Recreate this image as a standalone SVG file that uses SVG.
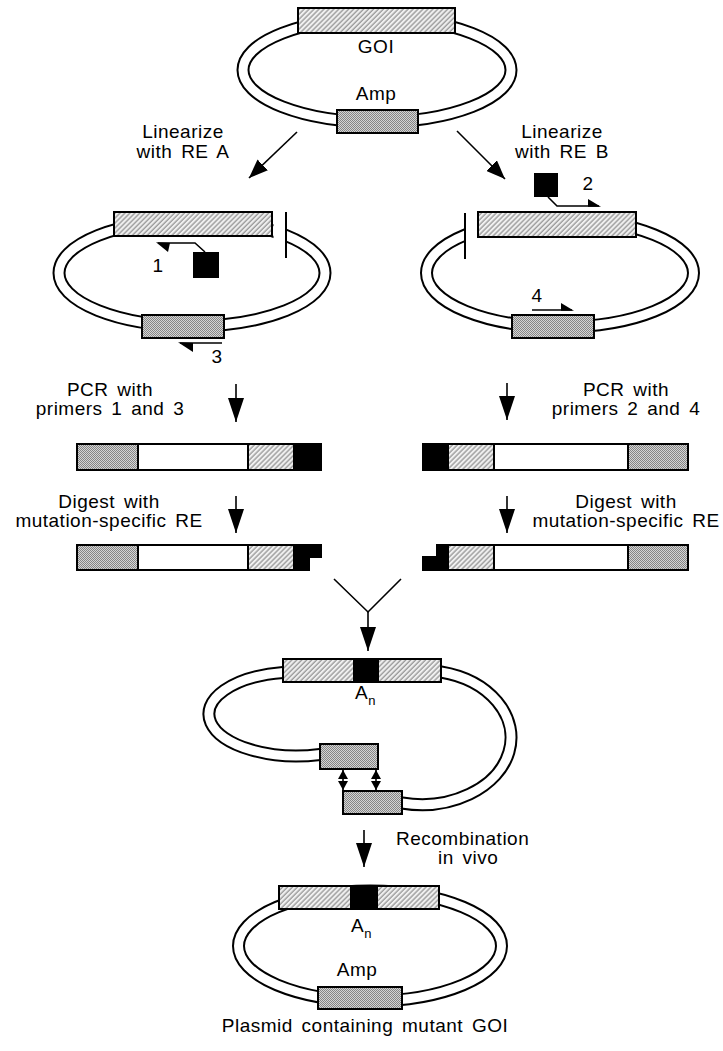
<svg xmlns="http://www.w3.org/2000/svg" width="723" height="1051" viewBox="0 0 723 1051">
  <defs>
    <!-- diagonal hatching used for the gene of interest -->
    <pattern id="hatch" width="3.5" height="3.5" patternUnits="userSpaceOnUse" patternTransform="rotate(45)">
      <rect width="3.5" height="3.5" fill="#f0f0f0"/>
      <line x1="1" y1="0" x2="1" y2="3.5" stroke="#7a7a7a" stroke-width="1"/>
    </pattern>
    <!-- fine stipple used for the Amp marker -->
    <pattern id="stipple" width="2" height="2" patternUnits="userSpaceOnUse">
      <rect width="2" height="2" fill="#d4d4d4"/>
      <rect width="1" height="1" fill="#858585"/>
      <rect x="1" y="1" width="1" height="1" fill="#858585"/>
    </pattern>
    <marker id="bigHead" viewBox="0 0 24 16" refX="24" refY="8" markerWidth="24" markerHeight="16" markerUnits="userSpaceOnUse" orient="auto">
      <path d="M0,0 L24,8 L0,16 Z" fill="#000"/>
    </marker>
    <marker id="diagHead" viewBox="0 0 19 15" refX="19" refY="7.5" markerWidth="19" markerHeight="15" markerUnits="userSpaceOnUse" orient="auto">
      <path d="M0,0 L19,7.5 L0,15 Z" fill="#000"/>
    </marker>
    <marker id="smallHead" viewBox="0 0 9 10" refX="9" refY="5" markerWidth="9" markerHeight="10" markerUnits="userSpaceOnUse" orient="auto-start-reverse">
      <path d="M0,0 L9,5 L0,10 Z" fill="#000"/>
    </marker>
    <style>
      .bandOut { fill: none; stroke: #000; stroke-width: 13; }
      .bandIn { fill: none; stroke: #fff; stroke-width: 9; }
      .goi { fill: url(#hatch); stroke: #000; stroke-width: 2; }
      .amp { fill: url(#stipple); stroke: #000; stroke-width: 2; }
      .blank { fill: #fff; stroke: #000; stroke-width: 2; }
      .solid { fill: #000; stroke: #000; stroke-width: 2; }
      .ln { fill: none; stroke: #000; stroke-width: 1.6; }
      .bar { fill: none; stroke: #000; stroke-width: 2; }
      .lbl { font-family: "Liberation Sans", Arial, sans-serif; font-size: 19px; letter-spacing: 0.5px; word-spacing: 3px; fill: #000; }
      .mid { text-anchor: middle; }
      .sub { font-size: 13px; letter-spacing: 0; }
      .gap { fill: #fff; }
    </style>
  </defs>

  <rect width="723" height="1051" fill="#fff"/>

  <!-- starting plasmid -->
  <g id="plasmid-start">
    <ellipse class="bandOut" cx="377" cy="70" rx="134" ry="52"/>
    <ellipse class="bandIn" cx="377" cy="70" rx="134" ry="52"/>
    <rect class="goi" x="298" y="8" width="157" height="25"/>
    <rect class="amp" x="337" y="110" width="81" height="23"/>
    <text class="lbl mid" x="376" y="53">GOI</text>
    <text class="lbl mid" x="376" y="100">Amp</text>
  </g>

  <!-- plasmid cut with RE A -->
  <g id="linear-a">
    <ellipse class="bandOut" cx="192" cy="273" rx="133" ry="53"/>
    <ellipse class="bandIn" cx="192" cy="273" rx="133" ry="53"/>
    <rect class="gap" x="273.5" y="218" width="11.5" height="30"/>
    <line class="bar" x1="286" y1="212" x2="286" y2="258"/>
    <rect class="goi" x="114" y="212" width="158" height="24"/>
    <rect class="amp" x="142" y="315" width="82" height="23"/>
    <polyline class="ln" points="158,243 195,243 205,252"/>
    <polygon points="156,242.3 170,243 168,252" fill="#000"/>
    <rect x="193" y="252" width="26" height="26" fill="#000"/>
    <polyline class="ln" points="180,343 222,343"/>
    <polygon points="178,342.3 193,343 193,352" fill="#000"/>
    <text class="lbl mid" x="158" y="272">1</text>
    <text class="lbl mid" x="217" y="363">3</text>
  </g>

  <!-- plasmid cut with RE B -->
  <g id="linear-b">
    <ellipse class="bandOut" cx="560" cy="273" rx="133.5" ry="54"/>
    <ellipse class="bandIn" cx="560" cy="273" rx="133.5" ry="54"/>
    <rect class="gap" x="466" y="218" width="11.5" height="30"/>
    <line class="bar" x1="465" y1="213" x2="465" y2="259"/>
    <rect class="goi" x="478" y="212" width="158" height="25"/>
    <rect class="amp" x="512" y="315" width="82" height="23"/>
    <rect x="534" y="173" width="24" height="24" fill="#000"/>
    <polyline class="ln" points="548,197 557,206 599,206"/>
    <polygon points="601,206.7 588,199 588,206.7" fill="#000"/>
    <polyline class="ln" points="532,310 572,310"/>
    <polygon points="574,310.7 561,303 561,310.7" fill="#000"/>
    <text class="lbl mid" x="588" y="190">2</text>
    <text class="lbl mid" x="537" y="302">4</text>
  </g>

  <!-- PCR product from primers 1 and 3 -->
  <g id="pcr-a">
    <rect class="amp" x="77" y="444" width="61" height="26"/>
    <rect class="blank" x="138" y="444" width="110" height="26"/>
    <rect class="goi" x="248" y="444" width="46" height="26"/>
    <rect class="solid" x="294" y="444" width="27" height="26"/>
  </g>

  <!-- PCR product from primers 2 and 4 -->
  <g id="pcr-b">
    <rect class="solid" x="423" y="444" width="25" height="26"/>
    <rect class="goi" x="448" y="444" width="46" height="26"/>
    <rect class="blank" x="494" y="444" width="134" height="26"/>
    <rect class="amp" x="628" y="444" width="60" height="26"/>
  </g>

  <!-- digested product A with sticky end -->
  <g id="digest-a">
    <rect class="amp" x="77" y="545" width="61" height="25"/>
    <rect class="blank" x="138" y="545" width="110" height="25"/>
    <rect class="goi" x="248" y="545" width="46" height="25"/>
    <polygon class="solid" points="294,545 321,545 321,557 309,557 309,570 294,570"/>
  </g>

  <!-- digested product B with sticky end -->
  <g id="digest-b">
    <polygon class="solid" points="448,545 437,545 437,557 423,557 423,570 448,570"/>
    <rect class="goi" x="448" y="545" width="46" height="25"/>
    <rect class="blank" x="494" y="545" width="134" height="25"/>
    <rect class="amp" x="628" y="545" width="60" height="25"/>
  </g>

  <!-- co-transformed fragments pairing -->
  <g id="intermediate">
    <path class="bandOut" d="M283,672.5 A88,42 0 1 0 320,754.5"/>
    <path class="bandIn" d="M283,672.5 A88,42 0 1 0 320,754.5"/>
    <path class="bandOut" d="M441,672 A88,66 0 1 1 402,803"/>
    <path class="bandIn" d="M441,672 A88,66 0 1 1 402,803"/>
    <rect class="goi" x="283" y="659" width="158" height="23"/>
    <rect class="solid" x="354" y="659" width="24" height="23"/>
    <rect class="amp" x="320" y="744" width="58" height="25"/>
    <rect class="amp" x="343" y="791" width="59" height="23"/>
    <text class="lbl" x="355" y="699">A<tspan class="sub" dy="6">n</tspan></text>
  </g>

  <!-- recombined plasmid -->
  <g id="plasmid-final">
    <ellipse class="bandOut" cx="370" cy="946" rx="131.5" ry="55"/>
    <ellipse class="bandIn" cx="370" cy="946" rx="131.5" ry="55"/>
    <rect class="goi" x="279" y="886" width="160" height="23"/>
    <rect class="solid" x="351" y="886" width="26" height="23"/>
    <rect class="amp" x="318" y="987" width="84" height="22"/>
    <text class="lbl" x="351" y="932">A<tspan class="sub" dy="6">n</tspan></text>
    <text class="lbl mid" x="357" y="976">Amp</text>
  </g>

  <!-- step labels -->
  <g id="labels">
    <text class="lbl mid" x="183" y="138">Linearize</text>
    <text class="lbl mid" x="183" y="158">with RE A</text>
    <text class="lbl mid" x="562" y="138">Linearize</text>
    <text class="lbl mid" x="562" y="158">with RE B</text>
    <text class="lbl mid" x="110" y="396">PCR with</text>
    <text class="lbl mid" x="110" y="415">primers 1 and 3</text>
    <text class="lbl mid" x="626" y="396">PCR with</text>
    <text class="lbl mid" x="626" y="415">primers 2 and 4</text>
    <text class="lbl mid" x="109" y="508">Digest with</text>
    <text class="lbl mid" x="109" y="527">mutation-specific RE</text>
    <text class="lbl mid" x="626" y="508">Digest with</text>
    <text class="lbl mid" x="626" y="527">mutation-specific RE</text>
    <text class="lbl" x="396" y="845">Recombination</text>
    <text class="lbl" x="438" y="864">in vivo</text>
    <text class="lbl mid" x="365" y="1032">Plasmid containing mutant GOI</text>
  </g>

  <!-- connectors -->
  <g id="connectors">
    <line class="ln" x1="297" y1="132" x2="249" y2="178" marker-end="url(#diagHead)"/>
    <line class="ln" x1="457" y1="131" x2="505" y2="179" marker-end="url(#diagHead)"/>
    <line class="ln" x1="236" y1="384" x2="236" y2="422" marker-end="url(#bigHead)"/>
    <line class="ln" x1="507" y1="383" x2="507" y2="420" marker-end="url(#bigHead)"/>
    <line class="ln" x1="236" y1="496" x2="236" y2="533" marker-end="url(#bigHead)"/>
    <line class="ln" x1="507" y1="496" x2="507" y2="533" marker-end="url(#bigHead)"/>
    <polyline class="ln" points="334,579 368,612 401,579" stroke-width="2"/>
    <line class="ln" x1="368" y1="612" x2="368" y2="651" marker-end="url(#bigHead)"/>
    <line class="ln" x1="343" y1="770" x2="343" y2="790" stroke-width="2" marker-start="url(#smallHead)" marker-end="url(#smallHead)"/>
    <line class="ln" x1="376" y1="770" x2="376" y2="790" stroke-width="2" marker-start="url(#smallHead)" marker-end="url(#smallHead)"/>
    <line class="ln" x1="364" y1="830" x2="364" y2="867" marker-end="url(#bigHead)"/>
  </g>
</svg>
